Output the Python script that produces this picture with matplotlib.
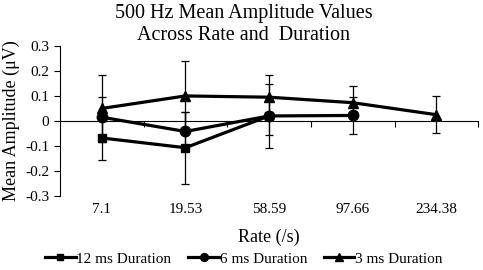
#recreate the 500 Hz mean amplitude chart (Excel style line chart with error bars)

import matplotlib.pyplot as plt
from matplotlib.lines import Line2D
import numpy as np

rates = ["7.1", "19.53", "58.59", "97.66", "234.38"]

#mean amplitudes per duration (uV)
amp_12ms = [-0.068, -0.107, 0.020]
err_12ms = [0.087, 0.144, 0.127]

amp_6ms = [0.015, -0.042, 0.020, 0.022]
err_6ms = [0.080, 0.078, 0.076, 0.073]

amp_3ms = [0.050, 0.100, 0.095, 0.073, 0.025]
err_3ms = [0.135, 0.140, 0.088, 0.065, 0.074]

plt.rcParams["font.family"] = ["Liberation Serif", "DejaVu Serif"]

fig = plt.figure(figsize=(4.83, 2.7), dpi=100)
ax = fig.add_axes([0.124, 0.274, 0.866, 0.556])

series = [
	(amp_12ms, err_12ms, "s", 5.5, "12 ms Duration"),
	(amp_6ms, err_6ms, "o", 7.5, "6 ms Duration"),
	(amp_3ms, err_3ms, "^", 7, "3 ms Duration"),
]

handles = []
for amp, err, marker, size, label in series:
	x = np.arange(len(amp))
	ax.errorbar(x, amp, yerr=err, color="black", linewidth=2.3, marker=marker,
		markersize=size, elinewidth=0.9, capsize=3, capthick=0.9)
	#legend shows only line + marker, no error bar, smaller marker
	handles.append(Line2D([], [], color="black", linewidth=2.3, marker=marker,
		markersize=size * 0.75, label=label))

ax.set_xlim(-0.5, len(rates) - 0.5)
ax.set_ylim(-0.3, 0.3)
ax.set_yticks(np.arange(-0.3, 0.31, 0.1))
ax.set_yticklabels(["-0.3", "-0.2", "-0.1", "0", "0.1", "0.2", "0.3"])

#category axis crosses at zero, tick marks between categories
ax.spines["bottom"].set_position(("data", 0))
ax.spines["top"].set_visible(False)
ax.spines["right"].set_visible(False)
ax.set_xticks(np.arange(len(rates)))
ax.set_xticklabels(rates)
ax.set_xticks(np.arange(len(rates)) + 0.5, minor=True)
ax.tick_params(axis="x", which="major", length=0, pad=59, labelsize=11)
ax.tick_params(axis="x", which="minor", length=4, direction="out", width=0.8)
ax.tick_params(axis="y", length=4, direction="out", width=0.8, labelsize=11)
for side in ["left", "bottom"]:
	ax.spines[side].set_linewidth(0.8)

ax.set_ylabel("Mean Amplitude (\u03bcV)", fontsize=13, labelpad=4)
ax.set_xlabel("Rate (/s)", fontsize=13, labelpad=9)

fig.suptitle("500 Hz Mean Amplitude Values\nAcross Rate and  Duration", x=0.505, y=0.985,
	fontsize=14.5, linespacing=1.2)

fig.legend(handles=handles, loc="center", bbox_to_anchor=(0.505, 0.042), ncol=3, frameon=False,
	fontsize=11, handlelength=2.0, handletextpad=0.05, columnspacing=1.1)

fig.savefig("out.png", dpi=100)
